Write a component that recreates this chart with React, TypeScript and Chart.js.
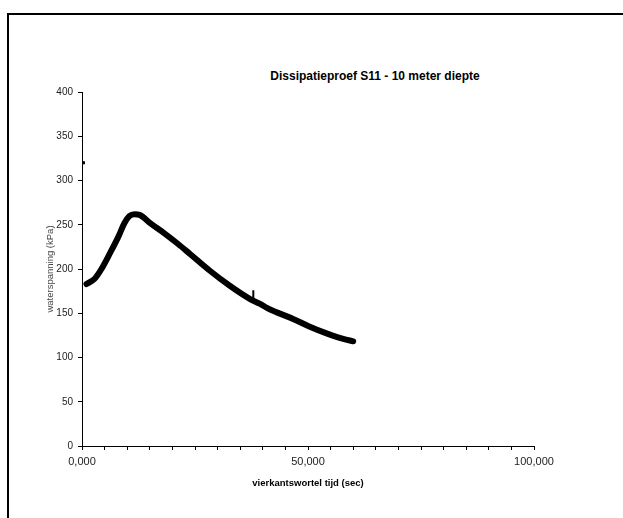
import React, { useEffect, useRef } from 'react';
import { Chart, registerables } from 'chart.js';

Chart.register(...registerables);

const TITLE = 'Dissipatieproef S11 - 10 meter diepte';
const X_TITLE = 'vierkantswortel tijd (sec)';
const Y_TITLE = 'waterspanning (kPa)';

// sqrt(time) values and pore water pressure (kPa)
const xValues = [1.0, 2.8, 4.3, 6.1, 8.0, 9.4, 10.5, 11.6, 12.8, 15.3, 18.3, 21.2, 23.9, 28.3, 32.7, 37.2, 39.4, 40.9, 43.1, 46.7, 50.4, 54.1, 57.8, 60.0];
const yValues = [183, 189, 200, 217, 236, 252, 260, 262, 261, 251, 240, 228.5, 217, 198, 181, 166, 160.6, 156, 151, 143.6, 134.8, 127.3, 121, 118.3];

// short upward spike in the record
const spikeX = [37.9, 37.9];
const spikeY = [163, 176];

// single outlier reading at the start
const outlierX = [0.3];
const outlierY = [320];

const X_MIN = 0;
const X_MAX = 100;
const X_STEP = 5;
const X_LABEL_EVERY = 50;
const Y_MIN = 0;
const Y_MAX = 400;
const Y_STEP = 50;

const FONT = '"Liberation Sans", Arial, sans-serif';

export default function App() {
  const ref = useRef<HTMLCanvasElement | null>(null);

  useEffect(() => {
    if (!ref.current) return;
    const toPts = (xs: number[], ys: number[]) => xs.map((x, i) => ({ x, y: ys[i] }));
    const chart = new Chart(ref.current, {
      type: 'scatter',
      data: {
        datasets: [
          {
            data: toPts(xValues, yValues),
            showLine: true,
            borderColor: '#000',
            backgroundColor: '#000',
            borderWidth: 6,
            pointRadius: 0,
            cubicInterpolationMode: 'monotone',
            borderCapStyle: 'round',
            borderJoinStyle: 'round',
          },
          {
            data: toPts(spikeX, spikeY),
            showLine: true,
            borderColor: '#000',
            borderWidth: 2,
            pointRadius: 0,
          },
          {
            data: toPts(outlierX, outlierY),
            showLine: false,
            pointStyle: 'rect',
            pointRadius: 1.6,
            backgroundColor: '#000',
            borderColor: '#000',
          },
        ],
      },
      options: {
        responsive: false,
        animation: false,
        devicePixelRatio: 1,
        layout: { padding: { left: 44, right: 89, top: 92, bottom: 25 } },
        plugins: {
          legend: { display: false },
          tooltip: { enabled: false },
          title: { display: false },
        },
        scales: {
          x: {
            type: 'linear',
            min: X_MIN,
            max: X_MAX,
            afterFit: (s: any) => {
              s.height = 47;
            },
            ticks: {
              stepSize: X_STEP,
              autoSkip: false,
              maxRotation: 0,
              padding: 5,
              color: '#222',
              font: { family: FONT, size: 11 },
              callback: (v: any) =>
                Number(v) % X_LABEL_EVERY === 0 ? Number(v).toFixed(3).replace('.', ',') : '',
            },
            grid: { drawOnChartArea: false, drawTicks: true, tickLength: 4, color: '#000' },
            border: { color: '#000', width: 1 },
            title: {
              display: true,
              text: X_TITLE,
              color: '#000',
              font: { family: FONT, size: 9.5, weight: 'bold' },
              padding: { top: 0, bottom: 4 },
            },
          },
          y: {
            min: Y_MIN,
            max: Y_MAX,
            afterFit: (s: any) => {
              s.width = 38;
            },
            ticks: {
              stepSize: Y_STEP,
              padding: 5,
              color: '#222',
              font: { family: FONT, size: 10 },
            },
            grid: { drawOnChartArea: false, drawTicks: true, tickLength: 4, color: '#000' },
            border: { color: '#000', width: 1 },
            title: {
              display: true,
              text: Y_TITLE,
              color: '#444',
              font: { family: FONT, size: 9.5 },
              padding: { top: 1, bottom: 0 },
            },
          },
        },
      },
    } as any);
    return () => chart.destroy();
  }, []);

  return (
    <div>
      <style>{`body{margin:0;overflow:hidden;background:#fff}`}</style>
      <div
        style={{
          position: 'absolute',
          left: 7,
          top: 13,
          width: 700,
          height: 600,
          borderLeft: '2px solid #000',
          borderTop: '2px solid #000',
        }}
      />
      <div
        style={{
          position: 'absolute',
          left: 0,
          top: 69,
          width: 750,
          textAlign: 'center',
          fontFamily: FONT,
          fontWeight: 'bold',
          fontSize: 12,
          lineHeight: '14px',
          color: '#000',
        }}
      >
        {TITLE}
      </div>
      <canvas
        ref={ref}
        width={623}
        height={518}
        style={{ position: 'absolute', left: 0, top: 0, display: 'block' }}
      />
    </div>
  );
}
